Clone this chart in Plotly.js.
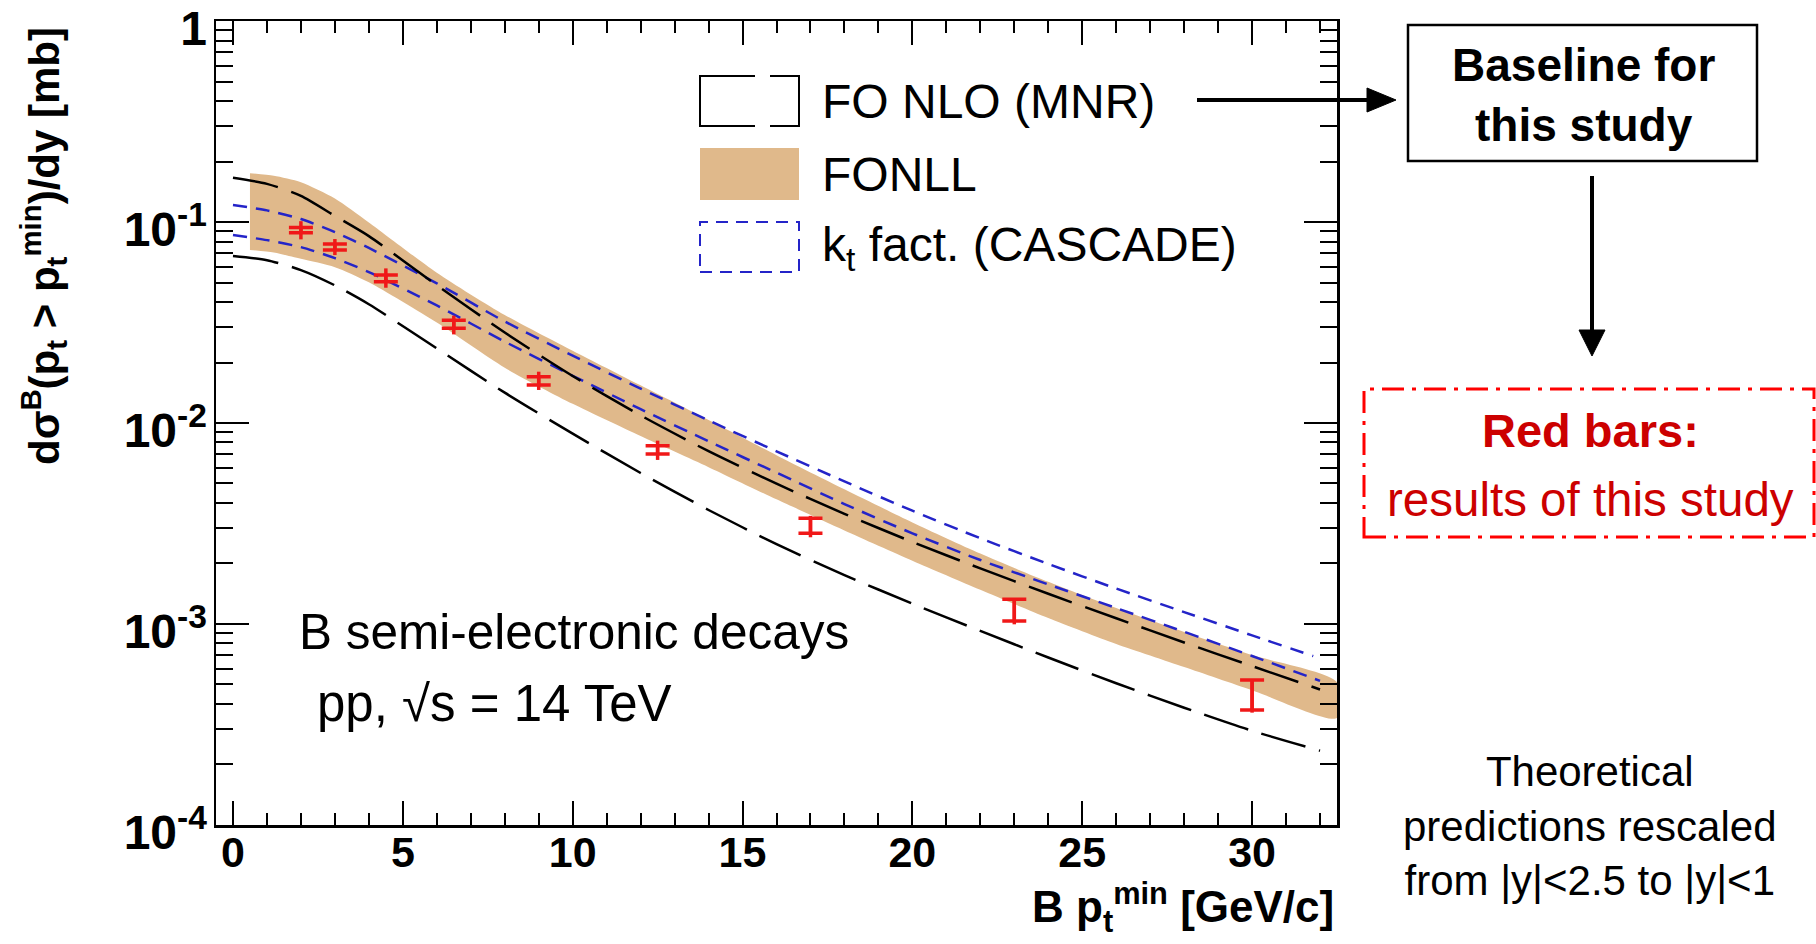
<!DOCTYPE html>
<html><head><meta charset="utf-8">
<script src="https://cdn.plot.ly/plotly-3.0.1.min.js"></script>
<style>html,body{margin:0;padding:0;background:#fff;}#chart{width:1816px;height:944px;}</style>
</head><body><div id="chart"></div>
<script>
// ---------------- data ----------------
const foUpperX = [0, 1, 2, 3, 4, 6, 8, 10, 12, 14, 16, 18, 20, 22, 24, 26, 28, 30, 32];
const foUpperY = [0.166, 0.1549, 0.1349, 0.1072, 0.0851, 0.0485, 0.0282, 0.01714, 0.01091, 0.00724, 0.00499, 0.00353, 0.00256, 0.00189, 0.001413, 0.001067, 0.000809, 0.000617, 0.000472];

const foLowerX = [0, 1, 2, 3, 4, 6, 8, 10, 12, 14, 16, 18, 20, 22, 24, 26, 28, 30, 32];
const foLowerY = [0.06776, 0.0646, 0.05768, 0.0484, 0.03899, 0.0235, 0.01416, 0.00885, 0.005636, 0.00369, 0.002495, 0.00175, 0.001262, 0.000923, 0.000681, 0.000507, 0.000383, 0.000294, 0.000234];

const fonllX  = [0.5, 1.2, 2, 3, 4, 6, 8, 10, 12, 14, 16, 18, 20, 22, 24, 26, 28, 30, 32.5];
const fonllHi = [0.175, 0.1698, 0.1578, 0.131, 0.0995, 0.056, 0.0345, 0.0229, 0.0154, 0.01035, 0.00692, 0.00468, 0.0032, 0.00224, 0.00162, 0.0012, 0.000912, 0.0007, 0.000513];
const fonllLo = [0.0726, 0.0705, 0.0656, 0.0596, 0.0501, 0.0316, 0.01884, 0.01245, 0.00861, 0.00603, 0.00417, 0.00292, 0.002065, 0.00148, 0.00107, 0.000794, 0.00061, 0.000468, 0.00034];

const ktUpperX = [0, 1, 2, 3, 4, 6, 8, 10, 12, 14, 16, 18, 20, 22, 24, 26, 28, 30, 31.8];
const ktUpperY = [0.1216, 0.1143, 0.1035, 0.0891, 0.0743, 0.04955, 0.032, 0.02163, 0.01483, 0.0103, 0.00723, 0.00512, 0.00366, 0.00267, 0.00199, 0.0015, 0.001146, 0.000877, 0.000692];

const ktLowerX = [0, 1, 2, 3, 4, 6, 8, 10, 12, 14, 16, 18, 20, 22, 24, 26, 28, 30, 32];
const ktLowerY = [0.0861, 0.0813, 0.075, 0.0661, 0.05636, 0.03846, 0.02541, 0.01718, 0.01172, 0.00811, 0.00566, 0.00395, 0.002825, 0.00208, 0.001574, 0.0012, 0.000914, 0.000693, 0.000521];

const dataX      = [2, 3, 4.5, 6.5, 9, 12.5, 17, 23, 30];
const dataY      = [0.0912, 0.0751, 0.0526, 0.031, 0.01624, 0.00734, 0.00305, 0.00117, 0.000443];
const dataTotHi  = [0.101, 0.0823, 0.0588, 0.0342, 0.018, 0.00817, 0.00345, 0.00134, 0.000532];
const dataTotLo  = [0.082, 0.0685, 0.0471, 0.0276, 0.0146, 0.00655, 0.0027, 0.000996, 0.000362];
const dataSysHi  = [0.094, 0.0777, 0.0545, 0.0325, 0.017, 0.0077, 0.00336, 0.001327, 0.000526];
const dataSysLo  = [0.0885, 0.0726, 0.0505, 0.0296, 0.01545, 0.00701, 0.00283, 0.001035, 0.000373];

const xTickVals = [0, 5, 10, 15, 20, 25, 30];
const xTickText = ['0', '5', '10', '15', '20', '25', '30'];
const yTickVals = [1e-4, 1e-3, 1e-2, 1e-1, 1];
const yTickText = ['10<sup>-4</sup>', '10<sup>-3</sup>', '10<sup>-2</sup>', '10<sup>-1</sup>', '1'];

const legendLabels = ['FO NLO (MNR)', 'FONLL', 'k<sub>t</sub> fact. (CASCADE)'];

// ---------------- geometry helpers (pixel -> paper) ----------------
const L = 216, R = 1337, T = 21, B = 825;
const px = X => (X - L) / (R - L);
const py = Y => (B - Y) / (B - T);

const TAN = '#E0B98B', BLUE = '#2424C8', RED = '#F01818', DARKRED = '#CC0000';
const FONT = 'Liberation Sans, Arial, Helvetica, sans-serif';

const traces = [
  { // FONLL band
    x: fonllX.concat(fonllX.slice().reverse()),
    y: fonllHi.concat(fonllLo.slice().reverse()),
    mode: 'lines', fill: 'toself', fillcolor: TAN,
    line: {width: 0, color: TAN, shape: 'spline', smoothing: 0.7},
    hoverinfo: 'skip', showlegend: false
  },
  {x: ktUpperX, y: ktUpperY, mode: 'lines', line: {color: BLUE, width: 2.5, dash: '14px,9px', shape: 'spline', smoothing: 0.7}, showlegend: false},
  {x: ktLowerX, y: ktLowerY, mode: 'lines', line: {color: BLUE, width: 2.5, dash: '14px,9px', shape: 'spline', smoothing: 0.7}, showlegend: false},
  {x: foUpperX, y: foUpperY, mode: 'lines', line: {color: '#000', width: 2.5, dash: '46px,14px', shape: 'spline', smoothing: 0.7}, showlegend: false},
  {x: foLowerX, y: foLowerY, mode: 'lines', line: {color: '#000', width: 2.5, dash: '46px,14px', shape: 'spline', smoothing: 0.7}, showlegend: false},
  { // total error: plain vertical line
    x: dataX, y: dataY, mode: 'markers', marker: {size: 2, color: 'rgba(0,0,0,0)'},
    error_y: {type: 'data', symmetric: false,
      array: dataTotHi.map((v, i) => v - dataY[i]),
      arrayminus: dataY.map((v, i) => v - dataTotLo[i]),
      color: RED, thickness: 3.5, width: 0},
    showlegend: false
  },
  { // systematic error: with caps
    x: dataX, y: dataY, mode: 'markers', marker: {size: 2, color: 'rgba(0,0,0,0)'},
    error_y: {type: 'data', symmetric: false,
      array: dataSysHi.map((v, i) => v - dataY[i]),
      arrayminus: dataY.map((v, i) => v - dataSysLo[i]),
      color: RED, thickness: 3.5, width: 12},
    showlegend: false
  }
];

const shapes = [
  // legend: FO NLO box as two brackets
  {type: 'path', xref: 'paper', yref: 'paper', line: {color: '#000', width: 2},
   path: `M ${px(755)},${py(76)} L ${px(700)},${py(76)} L ${px(700)},${py(126)} L ${px(755)},${py(126)}`},
  {type: 'path', xref: 'paper', yref: 'paper', line: {color: '#000', width: 2},
   path: `M ${px(770)},${py(76)} L ${px(799)},${py(76)} L ${px(799)},${py(126)} L ${px(770)},${py(126)}`},
  // legend: FONLL filled box
  {type: 'rect', xref: 'paper', yref: 'paper', x0: px(700), x1: px(799), y0: py(200), y1: py(148),
   fillcolor: TAN, line: {width: 0}},
  // legend: CASCADE dashed box
  {type: 'rect', xref: 'paper', yref: 'paper', x0: px(700), x1: px(799), y0: py(272), y1: py(222),
   line: {color: BLUE, width: 2, dash: '12px,8px'}},
  // Baseline box
  {type: 'rect', xref: 'paper', yref: 'paper', x0: px(1408), x1: px(1757), y0: py(161), y1: py(25),
   line: {color: '#000', width: 2.5}},
  // horizontal arrow
  {type: 'line', xref: 'paper', yref: 'paper', x0: px(1197), x1: px(1372), y0: py(100), y1: py(100),
   line: {color: '#000', width: 4}},
  {type: 'path', xref: 'paper', yref: 'paper', fillcolor: '#000', line: {color: '#000', width: 1},
   path: `M ${px(1396)},${py(100)} L ${px(1367)},${py(88)} L ${px(1367)},${py(112)} Z`},
  // vertical arrow
  {type: 'line', xref: 'paper', yref: 'paper', x0: px(1592), x1: px(1592), y0: py(176), y1: py(334),
   line: {color: '#000', width: 4}},
  {type: 'path', xref: 'paper', yref: 'paper', fillcolor: '#000', line: {color: '#000', width: 1},
   path: `M ${px(1592)},${py(356)} L ${px(1579)},${py(330)} L ${px(1605)},${py(330)} Z`},
  // red dash-dot box
  {type: 'rect', xref: 'paper', yref: 'paper', x0: px(1364), x1: px(1814), y0: py(537), y1: py(389),
   line: {color: '#FF0000', width: 3, dash: '22px,8px,4px,8px'}}
];

const ann = (X, Y, text, opts) => Object.assign({
  xref: 'paper', yref: 'paper', x: px(X), y: py(Y), text: text, showarrow: false,
  xanchor: 'left', yanchor: 'middle', font: {family: FONT, size: 48, color: '#000'}
}, opts || {});

const annotations = [
  ann(820, 101, legendLabels[0]),
  ann(820, 175, legendLabels[1]),
  ann(820, 248, legendLabels[2]),
  ann(297, 631, 'B semi-electronic decays', {font: {family: FONT, size: 49.5, color: '#000'}}),
  ann(315, 703, 'pp, √s = 14 TeV', {font: {family: FONT, size: 51, color: '#000'}}),
  ann(1583, 95, 'Baseline for<br>this study', {xanchor: 'center', font: {family: FONT, size: 46, color: '#000', weight: 'bold'}}),
  ann(1590, 431, 'Red bars:', {xanchor: 'center', font: {family: FONT, size: 47, color: DARKRED, weight: 'bold'}}),
  ann(1590, 500, 'results of this study', {xanchor: 'center', font: {family: FONT, size: 47.5, color: DARKRED}}),
  ann(1590, 826, 'Theoretical<br>predictions rescaled<br>from |y|&lt;2.5 to |y|&lt;1', {xanchor: 'center', font: {family: FONT, size: 42, color: '#000'}}),
  ann(44, 25, 'dσ<sup>B</sup>(p<sub>t</sub> > p<sub>t</sub><sup>min</sup>)/dy [mb]',
      {xanchor: 'center', yanchor: 'top', textangle: -90, font: {family: FONT, size: 42, color: '#000', weight: 'bold'}}),
  ann(1336, 907, 'B p<sub>t</sub><sup>min</sup> [GeV/c]',
      {xanchor: 'right', font: {family: FONT, size: 44, color: '#000', weight: 'bold'}})
];

const layout = {
  width: 1816, height: 944,
  margin: {l: L, r: 1816 - R, t: T, b: 944 - B, pad: 0},
  paper_bgcolor: '#fff', plot_bgcolor: '#fff',
  showlegend: false,
  xaxis: {
    range: [-0.5, 32.5], showgrid: false, zeroline: false,
    showline: true, linecolor: '#000', linewidth: 2.5, mirror: 'allticks',
    ticks: 'inside', ticklen: 24, tickwidth: 2, tickcolor: '#000',
    tickmode: 'array', tickvals: xTickVals, ticktext: xTickText,
    tickfont: {family: FONT, size: 43, color: '#000', weight: 'bold'}, ticklabelstandoff: -12,
    minor: {tickmode: 'linear', tick0: 0, dtick: 1, ticks: 'inside', ticklen: 12, tickwidth: 2, tickcolor: '#000', showgrid: false}
  },
  yaxis: {
    type: 'log', range: [-4.0004, 0.0004], showgrid: false, zeroline: false,
    showline: true, linecolor: '#000', linewidth: 2.5, mirror: 'allticks',
    ticks: 'inside', ticklen: 33, tickwidth: 2, tickcolor: '#000',
    tickmode: 'array', tickvals: yTickVals, ticktext: yTickText,
    tickfont: {family: FONT, size: 48, color: '#000', weight: 'bold'}, ticklabelstandoff: -3, ticklabelshift: 7,
    minor: {dtick: 'D1', ticks: 'inside', ticklen: 17, tickwidth: 2, tickcolor: '#000', showgrid: false}
  },
  shapes: shapes,
  annotations: annotations
};

Plotly.newPlot('chart', traces, layout, {displayModeBar: false, staticPlot: true});
</script>
</body></html>
